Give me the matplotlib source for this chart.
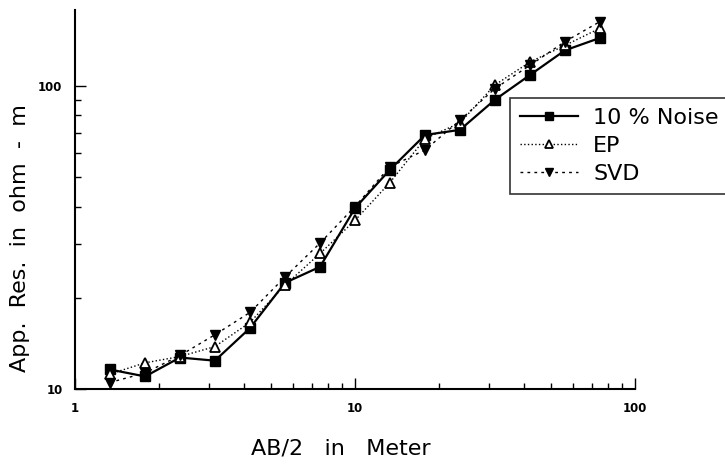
import matplotlib
matplotlib.use("Agg")
import matplotlib.pyplot as plt
from matplotlib.ticker import LogLocator, NullFormatter, FixedLocator, FixedFormatter

plt.rcParams['font.family'] = ['DejaVu Sans']

ab2 = [1.33, 1.78, 2.37, 3.16, 4.22, 5.62, 7.5, 10.0, 13.3, 17.8, 23.7, 31.6, 42.2, 56.2, 75.0]
noise = [11.6, 11.0, 12.7, 12.4, 15.9, 22.4, 25.3, 39.5, 52.8, 68.9, 71.6, 90.0, 108.7, 131.0, 144.0]
ep = [11.2, 12.2, 12.8, 13.8, 16.6, 22.0, 28.0, 36.0, 47.9, 67.0, 75.5, 100.7, 120.0, 136.0, 155.0]
svd = [10.5, 11.3, 12.9, 15.1, 17.9, 23.4, 30.3, 40.0, 54.0, 61.5, 77.0, 98.0, 117.0, 140.0, 163.0]

fig = plt.figure(figsize=(7.25, 4.66), dpi=100)
ax = fig.add_axes([75/725, 1-389/466, 560/725, 379/466])

ax.plot(ab2, noise, '-', color='black', lw=1.6, marker='s', ms=6.5, label='10 % Noise')
ax.plot(ab2, ep, ':', color='black', lw=1.0, marker='^', ms=6.5, mfc='white', mew=1.3, label='EP')
ax.plot(ab2, svd, linestyle=(0, (2, 3)), color='black', lw=1.0, marker='v', ms=6.5, label='SVD')

ax.set_xscale('log')
ax.set_yscale('log')
ax.set_xlim(1, 100)
ax.set_ylim(10, 178)

for s in ['top', 'right']:
    ax.spines[s].set_visible(False)
for s in ['left', 'bottom']:
    ax.spines[s].set_linewidth(1.5)

ax.xaxis.set_major_locator(FixedLocator([1, 10, 100]))
ax.xaxis.set_major_formatter(FixedFormatter(['1', '10', '100']))
ax.yaxis.set_major_locator(FixedLocator([10, 100]))
ax.yaxis.set_major_formatter(FixedFormatter(['10', '100']))
ax.xaxis.set_minor_locator(LogLocator(base=10, subs=range(2, 10)))
ax.yaxis.set_minor_locator(LogLocator(base=10, subs=range(2, 10)))
ax.xaxis.set_minor_formatter(NullFormatter())
ax.yaxis.set_minor_formatter(NullFormatter())
ax.tick_params(which='major', direction='in', length=8, width=1, labelsize=8.5, pad=9)
ax.tick_params(which='minor', direction='in', length=4, width=1)
for t in ax.get_xticklabels() + ax.get_yticklabels():
    t.set_fontweight('bold')

ax.set_xlabel('AB/2   in   Meter', fontsize=16)
ax.set_ylabel('App.  Res.  in  ohm  -  m', fontsize=16)
ax.xaxis.set_label_coords((341-75)/560, (389-449)/379)
ax.yaxis.set_label_coords((20-75)/560, (389-238)/379)
ax.xaxis.label.set_va('center')
ax.yaxis.label.set_va('center')

leg = fig.legend(loc='upper left', bbox_to_anchor=(510/725, 1-98/466), fontsize=16,
                 frameon=True, fancybox=False, edgecolor='black', handlelength=2.6,
                 handletextpad=0.7, borderpad=0.45, labelspacing=0.35, borderaxespad=0,
                 markerscale=0.85)
leg.get_frame().set_linewidth(1.2)

fig.savefig('out.png', dpi=100)
